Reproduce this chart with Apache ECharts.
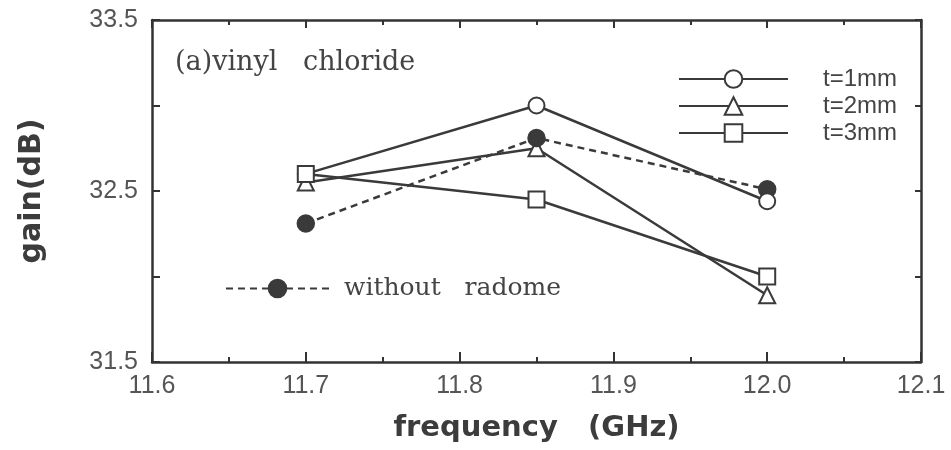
<!DOCTYPE html>
<html lang="en">
<head>
<meta charset="UTF-8">
<title>gain vs frequency</title>
<script src="https://cdn.jsdelivr.net/npm/echarts@6/dist/echarts.min.js"></script>
<style>
  body { margin: 0; background: #fff; }
  #main { width: 951px; height: 450px; }
</style>
</head>
<body>
<div id="main"></div>
<script>
// data
var freq = [11.7, 11.85, 12.0];
var t1 = [32.6, 33.0, 32.44];
var t2 = [32.55, 32.75, 31.89];
var t3 = [32.6, 32.45, 32.0];
var noRadome = [32.31, 32.81, 32.51];
var yLabels = ['31.5', '32.5', '33.5'];

function pairs(ys) {
    return Array.from(ys, (v, i) => [freq[i], v]);
}

var ink = '#3a3a3a';
var lineW = 2.5;

function mkSeries(name, ys, symbol, dashed) {
    return {
        name: name,
        type: 'line',
        data: pairs(ys),
        symbol: symbol,
        symbolSize: 16,
        color: ink,
        lineStyle: { color: ink, width: lineW, type: dashed ? [7, 5] : 'solid' },
        itemStyle: { color: ink, borderColor: ink, borderWidth: lineW },
        emphasis: { disabled: true },
        animation: false
    };
}

var tickFont = { fontFamily: 'Liberation Sans', fontSize: 25, color: '#555' };
var axisLine = { show: true, lineStyle: { color: '#333', width: 2.5 } };

var chart = echarts.init(document.getElementById('main'));
chart.setOption({
    backgroundColor: '#fff',
    title: {
        text: '(a)vinyl   chloride',
        left: 175, top: 49, padding: 0,
        textStyle: { fontFamily: 'DejaVu Serif', fontWeight: 'normal', fontSize: 27, color: '#444' }
    },
    grid: { left: 152, right: 30, top: 20, bottom: 88 },
    legend: [{
        data: ['t=1mm', 't=2mm', 't=3mm'],
        orient: 'vertical',
        left: 678, top: 67, padding: 0,
        itemWidth: 109, itemHeight: 22, itemGap: 3,
        textStyle: { fontFamily: 'Liberation Sans', fontSize: 24, color: '#444', padding: [0, 0, 0, 30] },
        selectedMode: false
    }, {
        data: ['without   radome'],
        left: 225, top: 276, padding: 0,
        itemWidth: 103, itemHeight: 22,
        textStyle: { fontFamily: 'DejaVu Serif', fontSize: 25, color: '#444', padding: [0, 0, 0, 10] },
        selectedMode: false
    }],
    xAxis: [{
        type: 'value', position: 'bottom',
        min: 11.6, max: 12.1, interval: 0.1,
        name: 'frequency   (GHz)', nameLocation: 'middle', nameGap: 52,
        nameTextStyle: { fontFamily: 'DejaVu Sans', fontWeight: 'bold', fontSize: 29, color: '#3c3c3c' },
        axisLine: axisLine,
        axisTick: { inside: true, length: 10, lineStyle: { color: '#333', width: 2 } },
        minorTick: { show: true, splitNumber: 2, length: 5, lineStyle: { color: '#333', width: 2 } },
        splitLine: { show: false },
        axisLabel: Object.assign({ margin: 12, formatter: v => v.toFixed(1) }, tickFont)
    }, {
        type: 'value', position: 'top',
        min: 11.6, max: 12.1, interval: 0.1,
        axisLine: axisLine,
        axisTick: { inside: true, length: 8, lineStyle: { color: '#333', width: 2 } },
        minorTick: { show: true, splitNumber: 2, length: 5, lineStyle: { color: '#333', width: 2 } },
        splitLine: { show: false },
        axisLabel: { show: false }
    }],
    yAxis: [{
        type: 'value', position: 'left',
        min: 31.5, max: 33.5, interval: 0.5,
        name: 'gain(dB)', nameLocation: 'middle', nameGap: 105,
        nameTextStyle: { fontFamily: 'DejaVu Sans', fontWeight: 'bold', fontSize: 30, color: '#3c3c3c' },
        axisLine: axisLine,
        axisTick: { inside: true, length: 8, lineStyle: { color: '#333', width: 2 } },
        splitLine: { show: false },
        axisLabel: Object.assign({
            margin: 14,
            formatter: v => {
                var s = v.toFixed(1);
                return yLabels.indexOf(s) >= 0 ? s : '';
            }
        }, tickFont)
    }, {
        type: 'value', position: 'right',
        min: 31.5, max: 33.5, interval: 0.5,
        axisLine: axisLine,
        axisTick: { inside: true, length: 6, lineStyle: { color: '#333', width: 2 } },
        splitLine: { show: false },
        axisLabel: { show: false }
    }],
    series: [
        mkSeries('t=2mm', t2, 'emptyTriangle', false),
        mkSeries('without   radome', noRadome, 'circle', true),
        mkSeries('t=1mm', t1, 'emptyCircle', false),
        mkSeries('t=3mm', t3, 'emptyRect', false)
    ]
});
</script>
</body>
</html>
